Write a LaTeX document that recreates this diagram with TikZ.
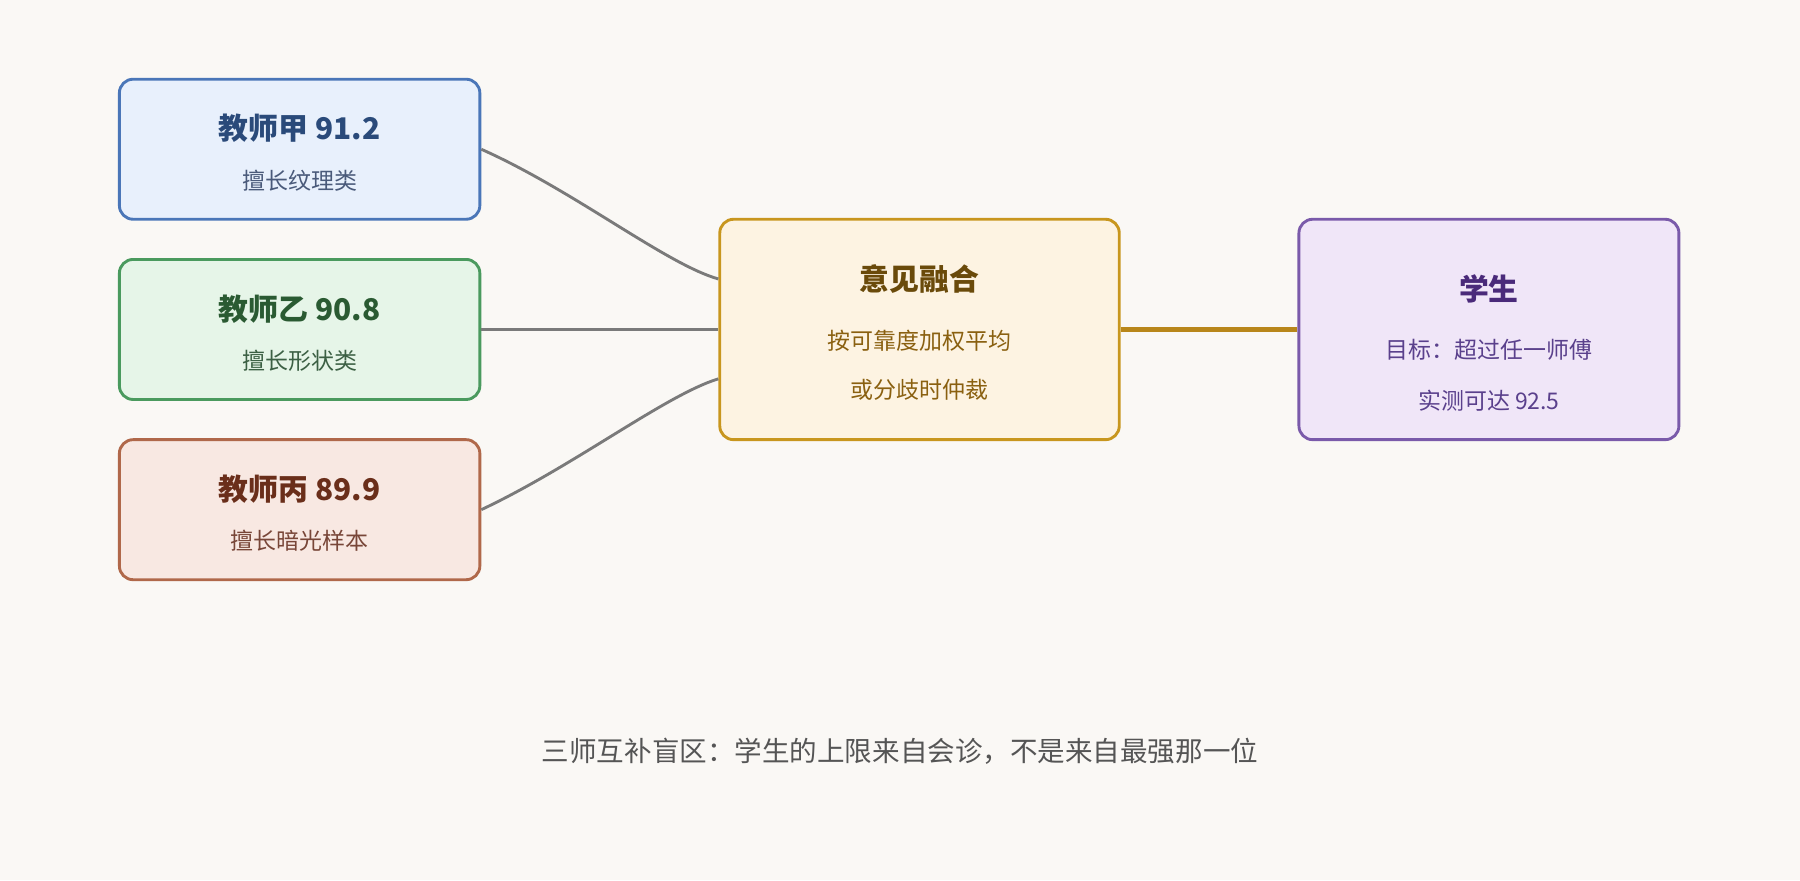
\documentclass[tikz,border=0pt]{standalone}
\usepackage{fontspec}
\setmainfont{Noto Sans CJK SC}
\begin{document}
\begin{tikzpicture}[x=1pt,y=-1pt,
  box/.style={draw, line width=2.5pt, rounded corners=12pt, inner sep=0pt},
  ttl/.style={font=\fontsize{26}{30}\selectfont\bfseries},
  sub/.style={font=\fontsize{20}{24}\selectfont},
  con/.style={draw=black!52, line width=2.5pt}]
\fill[fill={rgb,255:red,250;green,248;blue,245}] (0,0) rectangle (1568,767);
\useasboundingbox (0,0) rectangle (1568,767);
\definecolor{ab}{HTML}{4A76B8}\definecolor{af}{HTML}{E8F0FC}
\definecolor{bb}{HTML}{4A9A5E}\definecolor{bf}{HTML}{E6F5E8}
\definecolor{cb}{HTML}{B0684A}\definecolor{cf}{HTML}{F8E8E2}
\definecolor{fb}{HTML}{C8961E}\definecolor{ff}{HTML}{FDF3E2}
\definecolor{sb}{HTML}{7A5AAA}\definecolor{sf}{HTML}{F0E6F8}
\node[box, draw=ab, fill=af, minimum width=314pt, minimum height=122pt] (a) at (261,130) {};
\node[box, draw=bb, fill=bf, minimum width=314pt, minimum height=122pt] (b) at (261,287) {};
\node[box, draw=cb, fill=cf, minimum width=314pt, minimum height=122pt] (c) at (261,444) {};
\node[box, draw=fb, fill=ff, minimum width=348pt, minimum height=192pt] (f) at (801,287) {};
\node[box, draw=sb, fill=sf, minimum width=331pt, minimum height=192pt] (s) at (1297,287) {};
\node[ttl, text={rgb,255:red,42;green,74;blue,122}] (at) at (261,112) {教师甲 91.2};
\node[sub, text={rgb,255:red,74;green,90;blue,122}] (as) at (261,157) {擅长纹理类};
\node[ttl, text={rgb,255:red,42;green,90;blue,50}] (bt) at (261,269) {教师乙 90.8};
\node[sub, text={rgb,255:red,60;green,96;blue,68}] (bs) at (261,314) {擅长形状类};
\node[ttl, text={rgb,255:red,106;green,46;blue,26}] (ct) at (261,426) {教师丙 89.9};
\node[sub, text={rgb,255:red,120;green,70;blue,56}] (cs) at (261,471) {擅长暗光样本};
\node[ttl, text={rgb,255:red,106;green,74;blue,10}] (ft) at (801,243) {意见融合};
\node[sub, text={rgb,255:red,138;green,96;blue,16}] (f1) at (801,297) {按可靠度加权平均};
\node[sub, text={rgb,255:red,138;green,96;blue,16}] (f2) at (801,340) {或分歧时仲裁};
\node[ttl, text={rgb,255:red,74;green,42;blue,122}] (st) at (1297,252) {学生};
\node[sub, text={rgb,255:red,90;green,64;blue,140}] (s1) at (1297,305) {目标：超过任一师傅};
\node[sub, text={rgb,255:red,90;green,64;blue,140}] (s2) at (1297,349) {实测可达 92.5};
\node[sub, font=\fontsize{24}{28}\selectfont, text={rgb,255:red,85;green,85;blue,85}] (cap) at (784,654) {三师互补盲区：学生的上限来自会诊，不是来自最强那一位};
\draw[con] (a.east) ++(0,0) .. controls (500,166) and (580,230) .. (f.west |- 0,243);
\draw[con] (b.east) -- (f.west);
\draw[con] (c.east) .. controls (500,406) and (580,344) .. (f.west |- 0,330);
\draw[line width=4pt, draw={rgb,255:red,184;green,134;blue,26}] (f.east) -- (s.west);
\end{tikzpicture}
\end{document}
